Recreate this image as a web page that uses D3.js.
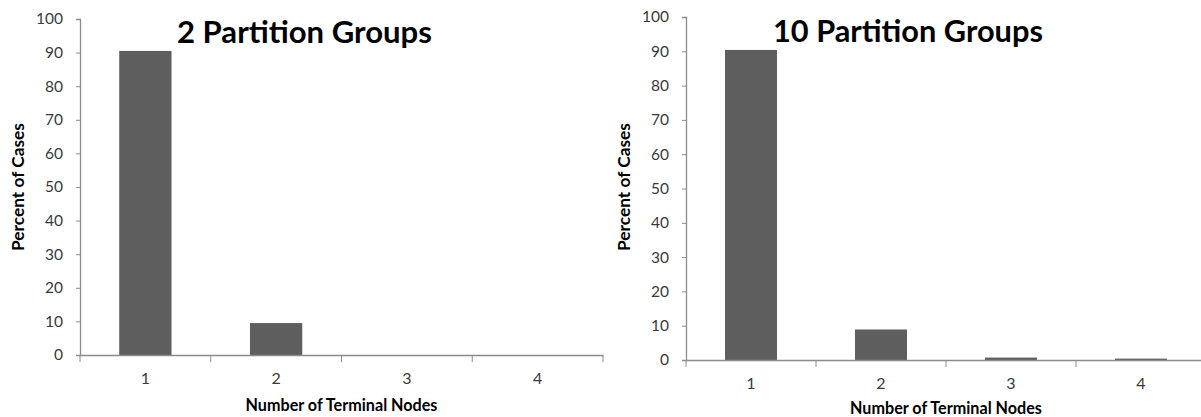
<!DOCTYPE html>
<html><head><meta charset="utf-8">
<script src="https://cdn.jsdelivr.net/npm/d3@7/dist/d3.min.js"></script>
<style>body{margin:0;background:#fff;} svg{display:block;}</style>
</head><body>
<svg id="c" width="1201" height="417"></svg>
<script>
const categories = ["1","2","3","4"];
const values2 = [90.5, 9.5, 0, 0];
const values10 = [90.4, 8.9, 0.7, 0.4];
const yTicks = [0,10,20,30,40,50,60,70,80,90,100];
const titles = ["2 Partition Groups", "10 Partition Groups"];
const xTitle = "Number of Terminal Nodes";
const yTitle = "Percent of Cases";

const svg = d3.select("#c");
const font = "Lato, 'Open Sans', sans-serif";
function fit(sel, w) {
  const fs = +sel.attr("font-size");
  const len = sel.node().getComputedTextLength();
  if (len > 0) sel.attr("font-size", (fs * w / len).toFixed(2));
}
const panels = [
  {vals: values2, title: titles[0], x0: 80, x1: 603, y0: 355, y1: 19, titleX: 177, titleY: 43, titleW: 255, yTitleX: 24, xTitleY: 411},
  {vals: values10, title: titles[1], x0: 686, x1: 1206, y0: 360, y1: 17, titleX: 773, titleY: 42, titleW: 270, yTitleX: 630, xTitleY: 413.5}
];
const axisColor = "#8c8c8c";
panels.forEach(p => {
  const g = svg.append("g");
  const x = d3.scaleBand().domain(categories).range([p.x0, p.x1]).paddingInner(0.6).paddingOuter(0.3);
  const y = d3.scaleLinear().domain([0,100]).range([p.y0, p.y1]);
  g.selectAll("rect").data(p.vals).join("rect")
    .attr("x", (d,i) => x(categories[i]))
    .attr("width", x.bandwidth())
    .attr("y", d => y(d))
    .attr("height", d => Math.max(0, y(0) - y(d)))
    .attr("fill", "#5e5e5e");
  const ya = g.append("g").attr("transform", `translate(${p.x0},0)`)
    .call(d3.axisLeft(y).tickValues(yTicks).tickSize(4).tickPadding(13));
  ya.select(".domain").attr("stroke", axisColor).attr("stroke-width", 1.3);
  ya.selectAll(".tick line").attr("stroke", axisColor);
  ya.selectAll(".tick text").attr("font-family", font).attr("font-size", 15.5).attr("fill", "#3a3a3a");
  const step = x.step();
  const xa = g.append("g").attr("transform", `translate(0,${p.y0})`)
    .call(d3.axisBottom(x).tickSize(0).tickPadding(18));
  xa.select(".domain").attr("stroke", axisColor).attr("stroke-width", 1.3);
  xa.selectAll(".tick text").attr("font-family", font).attr("font-size", 16).attr("fill", "#3a3a3a");
  const bounds = d3.range(categories.length + 1).map(i => p.x0 + i * step);
  xa.selectAll("line.bt").data(bounds).join("line").attr("class","bt")
    .attr("x1", d => d).attr("x2", d => d).attr("y1", 0).attr("y2", 7)
    .attr("stroke", axisColor);
  const t = g.append("text").attr("x", p.titleX).attr("y", p.titleY)
    .attr("font-family", font).attr("font-weight", "bold").attr("font-size", 28)
    .attr("fill", "#000").text(p.title);
  fit(t, p.titleW);
  const xt = g.append("text").attr("x", (p.x0 + p.x1) / 2).attr("y", p.xTitleY)
    .attr("text-anchor", "middle").attr("font-family", font).attr("font-weight", "bold")
    .attr("font-size", 15).attr("fill", "#000").text(xTitle);
  fit(xt, 192);
  const yt = g.append("text").attr("transform", `translate(${p.yTitleX},187) rotate(-90)`)
    .attr("text-anchor", "middle").attr("font-family", font).attr("font-weight", "bold")
    .attr("font-size", 15).attr("fill", "#000").text(yTitle);
  fit(yt, 128);
});
</script>
</body></html>
